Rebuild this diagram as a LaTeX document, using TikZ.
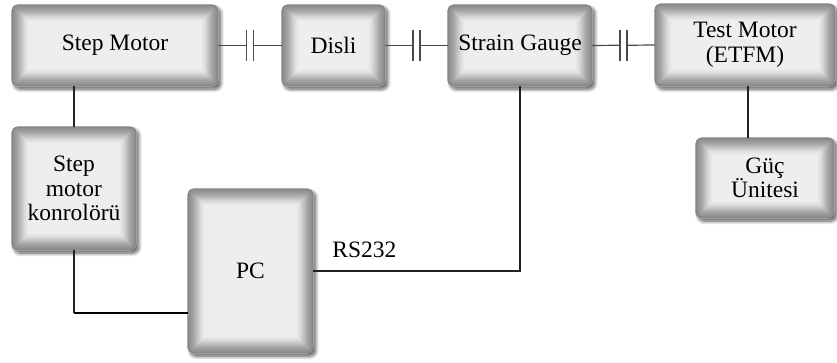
\documentclass[tikz,border=0pt]{standalone}
\usepackage{fontspec}
\setmainfont{Liberation Serif}
\usetikzlibrary{shadows.blur,backgrounds}
\definecolor{boxfill}{HTML}{EEEEEE}
\definecolor{linecol}{HTML}{222222}
\definecolor{cplcol}{HTML}{4A4A4A}
\newcommand\blkfont{\fontsize{23.5}{24.5}\selectfont}
\tikzset{
  blk/.style={rounded corners=6pt, inner sep=0pt, align=center,
    font=\blkfont, text=black},
  blkbase/.style={rounded corners=6pt, fill=boxfill,
    blur shadow={shadow xshift=2.5pt, shadow yshift=-3pt, shadow blur steps=10,
      shadow blur radius=3.5pt, shadow opacity=65}},
  conn/.style={draw=linecol, line width=1.1pt},
  thickconn/.style={draw=black, line width=2.6pt},
  cpl/.style={draw=cplcol, line width=1.2pt},
  lbl/.style={font=\blkfont, inner sep=0pt}
}
\begin{document}
\begin{tikzpicture}[x=1pt, y=-1pt]
\useasboundingbox (0,0) rectangle (837,363);
% blocks
\node[blk, minimum width=206pt, minimum height=81pt] (sm) at (115,45.5) {Step Motor};
\node[blk, minimum width=103pt, minimum height=81pt] (disli) at (333.5,45.5) {Disli};
\node[blk, minimum width=144pt, minimum height=81pt] (sg) at (520,45.5) {Strain Gauge};
\node[blk, minimum width=180pt, minimum height=82pt] (tm) at (745,45) {Test Motor\\(ETFM)};
\node[blk, minimum width=124pt, minimum height=123pt] (smk) at (74,188.5) {Step\\motor\\konrolörü};
\node[blk, minimum width=125pt, minimum height=164pt] (pc) at (250.5,271) {PC};
\node[blk, minimum width=138pt, minimum height=80pt] (guc) at (765,178) {Güç\\Ünitesi};
% box bodies: shadow, fill and inner glow
\begin{pgfonlayer}{background}
\foreach \n in {sm,disli,sg,tm,smk,pc,guc}{
  \path[blkbase] (\n.south west) rectangle (\n.north east);
  \begin{scope}
    \clip[rounded corners=6pt] (\n.south west) rectangle (\n.north east);
    \foreach \i/\s in {17/8,16/9,15/11,14/13,13/15,12/18,11/21,10/24,9/27,8/30,7/33,6/36,5/38,4/40,3/42,2/44,1/47}{
      \draw[line width=2*\i pt, color=black!\s, rounded corners=6pt]
        (\n.south west) rectangle (\n.north east);
    }
  \end{scope}
}
\end{pgfonlayer}
% couplings
\path (sm.east) -- (disli.west) coordinate[pos=0.5] (c1);
\path (disli.east) -- (sg.west) coordinate[pos=0.5] (c2);
\path (sg.east) -- (tm.west) coordinate[pos=0.5] (c3);
\foreach \a/\c/\b in {sm/c1/disli, disli/c2/sg, sg/c3/tm}{
  \draw[cpl] (\a.east) -- ([xshift=-3.5pt]\c);
  \draw[cpl] ([xshift=3.5pt]\c) -- (\b.west);
  \draw[cpl] ([xshift=-3.5pt, yshift=15.5pt]\c) -- ([xshift=-3.5pt, yshift=-15.5pt]\c);
  \draw[cpl] ([xshift=3.5pt, yshift=15.5pt]\c) -- ([xshift=3.5pt, yshift=-15.5pt]\c);
}
% connectors
\draw[conn] (smk.north) -- (smk.north |- sm.south);
\draw[conn] (smk.south) -- ([yshift=-42pt]pc.west -| smk.south);
\draw[thickconn] ([yshift=-42pt]pc.west -| smk.south) -- ([yshift=-42pt]pc.west);
\draw[conn] (pc.east) -| (sg.south);
\draw[conn] ([xshift=3pt]tm.south) -- ([xshift=3pt]tm.south |- guc.north);
\node[lbl, anchor=base west] (rs) at ([xshift=19pt, yshift=13pt]pc.east) {RS232};
\end{tikzpicture}
\end{document}
